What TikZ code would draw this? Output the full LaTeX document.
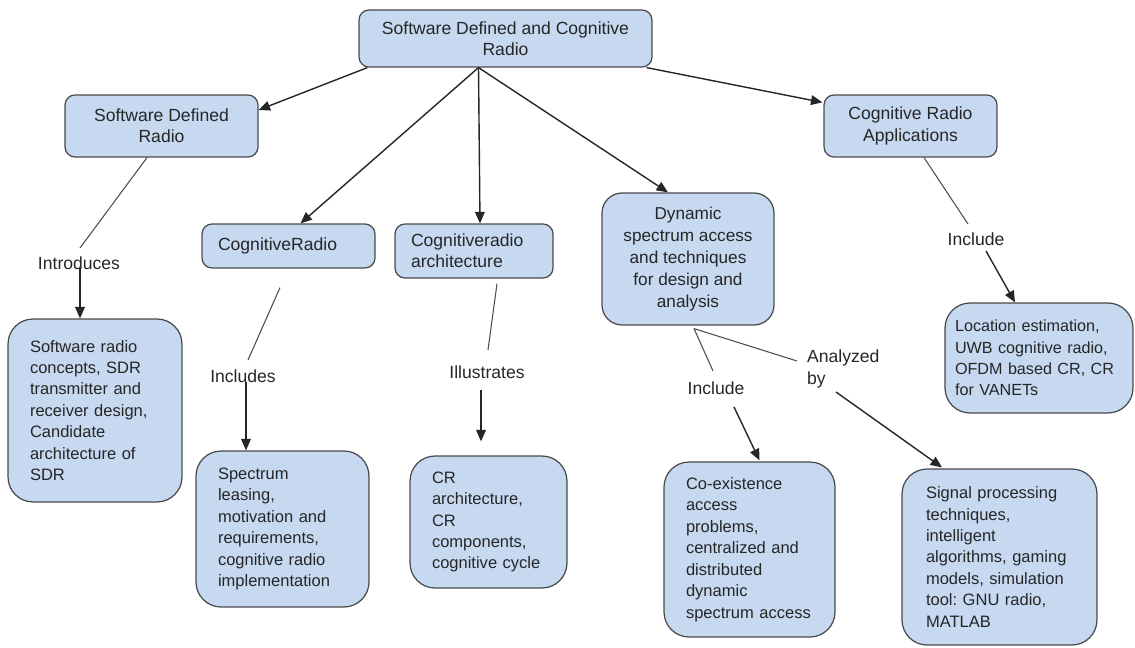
\documentclass[tikz,border=0pt]{standalone}
\usepackage{fontspec}
\setmainfont{Liberation Sans}
\usetikzlibrary{arrows.meta,calc}
\definecolor{boxfill}{HTML}{C6D9F1}
\definecolor{boxline}{HTML}{4A4A4A}
\definecolor{txt}{HTML}{262626}
\frenchspacing
\begin{document}
\begin{tikzpicture}[x=0.02cm,y=-0.02cm,
  box/.style={draw=boxline, fill=boxfill, line width=0.7pt, text=txt},
  hbox/.style={box, rounded corners=0.2cm, align=center, inner sep=0pt, font=\fontsize{10}{12.2}\selectfont},
  sbox/.style={box, rounded corners=0.2cm, align=left, inner xsep=0.32cm, inner ysep=0pt, font=\fontsize{10}{12.2}\selectfont},
  lbox/.style={box, rounded corners=0.5cm, align=left, inner xsep=0.44cm, inner ysep=0pt, font=\fontsize{9.4}{12.2}\selectfont},
  lab/.style={text=txt, inner sep=1pt, font=\fontsize{10}{12.2}\selectfont},
  arr/.style={-{Triangle[length=6.5pt,width=5.5pt]}, line width=0.8pt, draw=black!85},
  ln/.style={line width=0.6pt, draw=black!70}]
\useasboundingbox (0,0) rectangle (1135,648);

% boxes
\node[hbox, minimum width=5.86cm, minimum height=1.14cm] (top) at (505.5,38.5) {Software Defined and Cognitive\\Radio};
\node[hbox, minimum width=3.86cm, minimum height=1.24cm] (sdr) at (161.5,126) {Software Defined\\Radio};
\node[hbox, minimum width=3.46cm, minimum height=1.24cm] (apps) at (910.5,126) {Cognitive Radio\\Applications};
\node[sbox, text width=2.82cm, minimum height=0.88cm] (cogr) at (288.5,246) {CognitiveRadio};
\node[sbox, text width=2.52cm, minimum height=1.08cm] (crarch) at (474,251) {Cognitiveradio\\architecture};
\node[box, rounded corners=0.4cm, align=center, inner sep=0pt, font=\fontsize{9.8}{12.4}\selectfont,
      minimum width=3.44cm, minimum height=2.64cm] (dyn) at (688,259)
      {Dynamic\\spectrum access\\and techniques\\for design and\\analysis};

\node[lbox, text width=2.60cm, minimum height=3.66cm] (swbox) at (95,410.5)
  {Software radio\\concepts, SDR\\transmitter and\\receiver design,\\Candidate\\architecture of\\SDR};
\node[lbox, text width=2.58cm, minimum height=3.12cm] (spec) at (282.5,529)
  {Spectrum\\leasing,\\motivation and\\requirements,\\cognitive radio\\implementation};
\node[lbox, text width=2.26cm, minimum height=2.64cm] (crbox) at (488.5,522)
  {CR\\architecture,\\CR\\components,\\cognitive cycle};
\node[lbox, text width=2.54cm, minimum height=3.50cm] (coex) at (749.5,549.5)
  {Co-existence\\access\\problems,\\centralized and\\distributed\\dynamic\\spectrum access};
\node[lbox, inner xsep=0.48cm, text width=2.94cm, minimum height=3.52cm] (sig) at (999.5,557)
  {Signal processing\\techniques,\\intelligent\\algorithms, gaming\\models, simulation\\tool: GNU radio,\\MATLAB};
\node[lbox, font=\fontsize{9.2}{12.2}\selectfont, inner xsep=0.2cm, text width=3.36cm, minimum height=2.20cm] (loc) at (1039,358)
  {Location estimation,\\UWB cognitive radio,\\OFDM based CR, CR\\for VANETs};

% labels
\node[lab] (l1) at (79,263) {Introduces};
\node[lab] (l2) at (243,376) {Includes};
\node[lab] (l3) at (487,372) {Illustrates};
\node[lab] (l4) at (716,388) {Include};
\node[lab, align=left, anchor=west] (l5) at (805,369) {Analyzed\\by};
\node[lab] (l6) at (976,239) {Include};

% main connectors
\coordinate (hub) at ($(top.south)+(-27,0)$);
\draw[arr] ($(top.south west)+(9,0)$) -- ($(sdr.east)+(0,-16)$);
\draw[arr] (hub) -- ($(cogr.north)+(12,0)$);
\draw[arr] (hub) -- ($(crarch.north)+(6,0)$);
\draw[arr] (hub) -- ($(dyn.north)+(-20,0)$);
\draw[arr] ($(top.south east)+(-6,0)$) -- ($(apps.north west)+(-1,8)$);

% labelled connectors
\draw[ln] ($(sdr.south)+(-14.5,0)$) -- ($(l1.center)+(1,-15)$);
\draw[arr] ($(l1.center)+(1,5)$) -- ($(swbox.north)+(-15,0)$);

\draw[ln] ($(cogr.south)+(-8.5,19)$) -- ($(l2.center)+(5,-16)$);
\draw[arr] ($(l2.center)+(3,6)$) -- ($(spec.north)+(-36.5,0)$);

\draw[ln] ($(crarch.south)+(23,5)$) -- ($(l3.center)+(1,-22)$);
\draw[arr] ($(l3.center)+(-6,18)$) -- ($(crbox.north)+(-7.5,-14)$);

\draw[ln] ($(dyn.south)+(6,3)$) -- ($(l4.center)+(-3,-17)$);
\draw[arr] ($(l4.center)+(18,19)$) -- ($(coex.north)+(10,-1)$);
\draw[ln] ($(dyn.south)+(6,3)$) -- ($(l5.west)+(-8,-8)$);
\draw[arr] ($(l5.west)+(31,23)$) -- ($(sig.north)+(-57.5,-1)$);

\draw[ln] ($(apps.south)+(13.5,0)$) -- ($(l6.center)+(-8,-15)$);
\draw[arr] ($(l6.center)+(10,12)$) -- ($(loc.north)+(-24,0)$);
\end{tikzpicture}
\end{document}
